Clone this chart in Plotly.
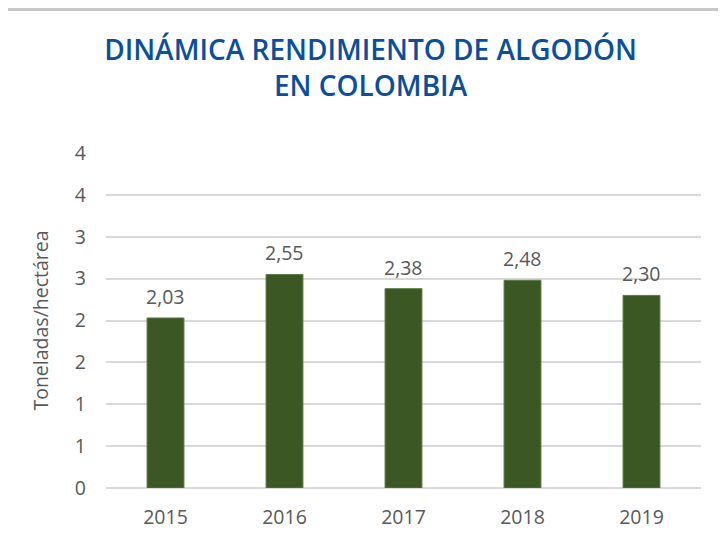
import plotly.graph_objects as go

# data
years = ['2015', '2016', '2017', '2018', '2019']
rendimiento = [2.03, 2.55, 2.38, 2.48, 2.30]

# y ticks every 0.5, labelled rounded to whole numbers as in the source
y_tickvals = [0, 0.5, 1, 1.5, 2, 2.5, 3, 3.5, 4]
y_ticktext = ['0', '1', '1', '2', '2', '3', '3', '4', '4']

bar_color = '#3a5724'
text_color = '#595959'
title_color = '#0b4f9c'
font_family = 'Open Sans'
fsize = 19.5

fig = go.Figure()

fig.add_trace(go.Bar(
    x=years,
    y=rendimiento,
    marker={'color': bar_color, 'line': {'color': '#5b7a45', 'width': 1}},
))

# value labels above the bars (category axis: x given as category index,
# since numeric-looking strings would be read as indices)
for i, v in enumerate(rendimiento):
    fig.add_annotation(x=i, y=v, text='{:.2f}'.format(v).replace('.', ','),
                       showarrow=False, yanchor='bottom', yshift=6,
                       font={'size': fsize, 'color': text_color})

# the page has an 8px body margin, so the figure is drawn 8px smaller
off = 8
W, H = 726 - off, 554 - off
m_l, m_r, m_t, m_b = 106 - off, 25, 153 - off, 66
pw, ph = W - m_l - m_r, H - m_t - m_b

def px_x(p):
    return (p - off - m_l) / pw

def px_y(p):
    return (H + off - m_b - p) / ph

# grey frame around the chart (left and top edges visible)
fig.add_shape(type='path', xref='paper', yref='paper',
              path='M {} {} L {} {} L {} {}'.format(px_x(5.5), px_y(580), px_x(5.5), px_y(9.5),
                                                    px_x(760), px_y(9.5)),
              line={'color': '#c8c8c8', 'width': 3})

fig.update_layout(
    width=W, height=H,
    margin={'l': m_l, 'r': m_r, 't': m_t, 'b': m_b},
    paper_bgcolor='white', plot_bgcolor='white',
    showlegend=False,
    bargap=0.69,
    title={'text': 'DINÁMICA RENDIMIENTO DE ALGODÓN<br>EN COLOMBIA',
           'font': {'size': 28, 'family': font_family, 'color': title_color, 'weight': 600},
           'x': 0.505, 'xanchor': 'center', 'y': 0.905, 'yanchor': 'top'},
    font={'family': font_family, 'color': text_color, 'size': fsize},
    xaxis={'type': 'category', 'showgrid': False, 'showline': False, 'ticks': '',
           'ticklabelstandoff': 15, 'tickfont': {'size': fsize, 'color': text_color}},
    yaxis={'range': [0, 4], 'tickvals': y_tickvals, 'ticktext': y_ticktext,
           'showgrid': True, 'gridcolor': '#d9d9d9', 'gridwidth': 1.5,
           'zeroline': True, 'zerolinecolor': '#d9d9d9', 'zerolinewidth': 1.5,
           'ticks': '', 'ticklabelstandoff': 19,
           'tickfont': {'size': fsize, 'color': text_color},
           'title': {'text': 'Toneladas/hectárea', 'font': {'size': fsize, 'color': text_color},
                     'standoff': 21}},
)

fig.write_html("out.html")
